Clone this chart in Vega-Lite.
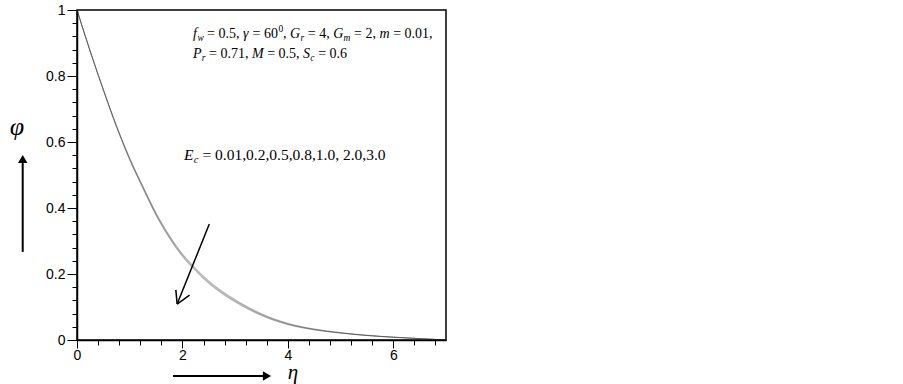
{
  "$schema": "https://vega.github.io/schema/vega-lite/v6.json",
  "width": 369,
  "height": 330,
  "autosize": {"type": "none"},
  "padding": {"left": 77, "top": 10, "right": 457, "bottom": 44},
  "background": "white",
  "config": {
    "view": {"stroke": "#000", "strokeWidth": 1.5},
    "axis": {"grid": false, "title": null, "domainColor": "#000", "domainWidth": 1.5, "tickColor": "#000", "tickWidth": 1, "labelColor": "#000", "labelFont": "Liberation Sans", "labelFontSize": 14, "labelOverlap": false, "tickCount": 200}
  },
  "datasets": {
    "curves": [
      {"Ec":0.01,"eta":0,"phi":1},{"Ec":0.2,"eta":0,"phi":1},{"Ec":0.5,"eta":0,"phi":1},{"Ec":0.8,"eta":0,"phi":1},{"Ec":1.0,"eta":0,"phi":1},{"Ec":2.0,"eta":0,"phi":1},{"Ec":3.0,"eta":0,"phi":1},
      {"Ec":0.01,"eta":0.25,"phi":0.876},{"Ec":0.2,"eta":0.25,"phi":0.8757},{"Ec":0.5,"eta":0.25,"phi":0.8754},{"Ec":0.8,"eta":0.25,"phi":0.8751},{"Ec":1.0,"eta":0.25,"phi":0.8748},{"Ec":2.0,"eta":0.25,"phi":0.8745},{"Ec":3.0,"eta":0.25,"phi":0.8742},
      {"Ec":0.01,"eta":0.5,"phi":0.76},{"Ec":0.2,"eta":0.5,"phi":0.7594},{"Ec":0.5,"eta":0.5,"phi":0.7588},{"Ec":0.8,"eta":0.5,"phi":0.7582},{"Ec":1.0,"eta":0.5,"phi":0.7576},{"Ec":2.0,"eta":0.5,"phi":0.757},{"Ec":3.0,"eta":0.5,"phi":0.7564},
      {"Ec":0.01,"eta":0.75,"phi":0.65},{"Ec":0.2,"eta":0.75,"phi":0.6491},{"Ec":0.5,"eta":0.75,"phi":0.6482},{"Ec":0.8,"eta":0.75,"phi":0.6473},{"Ec":1.0,"eta":0.75,"phi":0.6464},{"Ec":2.0,"eta":0.75,"phi":0.6455},{"Ec":3.0,"eta":0.75,"phi":0.6446},
      {"Ec":0.01,"eta":1.0,"phi":0.552},{"Ec":0.2,"eta":1.0,"phi":0.5508},{"Ec":0.5,"eta":1.0,"phi":0.5496},{"Ec":0.8,"eta":1.0,"phi":0.5484},{"Ec":1.0,"eta":1.0,"phi":0.5472},{"Ec":2.0,"eta":1.0,"phi":0.546},{"Ec":3.0,"eta":1.0,"phi":0.5448},
      {"Ec":0.01,"eta":1.25,"phi":0.467},{"Ec":0.2,"eta":1.25,"phi":0.4656},{"Ec":0.5,"eta":1.25,"phi":0.4642},{"Ec":0.8,"eta":1.25,"phi":0.4628},{"Ec":1.0,"eta":1.25,"phi":0.4614},{"Ec":2.0,"eta":1.25,"phi":0.46},{"Ec":3.0,"eta":1.25,"phi":0.4586},
      {"Ec":0.01,"eta":1.5,"phi":0.386},{"Ec":0.2,"eta":1.5,"phi":0.3845},{"Ec":0.5,"eta":1.5,"phi":0.383},{"Ec":0.8,"eta":1.5,"phi":0.3815},{"Ec":1.0,"eta":1.5,"phi":0.38},{"Ec":2.0,"eta":1.5,"phi":0.3785},{"Ec":3.0,"eta":1.5,"phi":0.377},
      {"Ec":0.01,"eta":1.75,"phi":0.318},{"Ec":0.2,"eta":1.75,"phi":0.3164},{"Ec":0.5,"eta":1.75,"phi":0.3148},{"Ec":0.8,"eta":1.75,"phi":0.3132},{"Ec":1.0,"eta":1.75,"phi":0.3116},{"Ec":2.0,"eta":1.75,"phi":0.31},{"Ec":3.0,"eta":1.75,"phi":0.3084},
      {"Ec":0.01,"eta":2.0,"phi":0.262},{"Ec":0.2,"eta":2.0,"phi":0.2604},{"Ec":0.5,"eta":2.0,"phi":0.2588},{"Ec":0.8,"eta":2.0,"phi":0.2572},{"Ec":1.0,"eta":2.0,"phi":0.2556},{"Ec":2.0,"eta":2.0,"phi":0.254},{"Ec":3.0,"eta":2.0,"phi":0.2524},
      {"Ec":0.01,"eta":2.25,"phi":0.218},{"Ec":0.2,"eta":2.25,"phi":0.2164},{"Ec":0.5,"eta":2.25,"phi":0.2148},{"Ec":0.8,"eta":2.25,"phi":0.2132},{"Ec":1.0,"eta":2.25,"phi":0.2116},{"Ec":2.0,"eta":2.25,"phi":0.21},{"Ec":3.0,"eta":2.25,"phi":0.2084},
      {"Ec":0.01,"eta":2.5,"phi":0.18},{"Ec":0.2,"eta":2.5,"phi":0.1784},{"Ec":0.5,"eta":2.5,"phi":0.1768},{"Ec":0.8,"eta":2.5,"phi":0.1752},{"Ec":1.0,"eta":2.5,"phi":0.1736},{"Ec":2.0,"eta":2.5,"phi":0.172},{"Ec":3.0,"eta":2.5,"phi":0.1704},
      {"Ec":0.01,"eta":2.75,"phi":0.149},{"Ec":0.2,"eta":2.75,"phi":0.1475},{"Ec":0.5,"eta":2.75,"phi":0.146},{"Ec":0.8,"eta":2.75,"phi":0.1445},{"Ec":1.0,"eta":2.75,"phi":0.143},{"Ec":2.0,"eta":2.75,"phi":0.1415},{"Ec":3.0,"eta":2.75,"phi":0.14},
      {"Ec":0.01,"eta":3.0,"phi":0.123},{"Ec":0.2,"eta":3.0,"phi":0.1216},{"Ec":0.5,"eta":3.0,"phi":0.1202},{"Ec":0.8,"eta":3.0,"phi":0.1188},{"Ec":1.0,"eta":3.0,"phi":0.1174},{"Ec":2.0,"eta":3.0,"phi":0.116},{"Ec":3.0,"eta":3.0,"phi":0.1146},
      {"Ec":0.01,"eta":3.5,"phi":0.08},{"Ec":0.2,"eta":3.5,"phi":0.0789},{"Ec":0.5,"eta":3.5,"phi":0.0778},{"Ec":0.8,"eta":3.5,"phi":0.0767},{"Ec":1.0,"eta":3.5,"phi":0.0756},{"Ec":2.0,"eta":3.5,"phi":0.0745},{"Ec":3.0,"eta":3.5,"phi":0.0734},
      {"Ec":0.01,"eta":4.0,"phi":0.051},{"Ec":0.2,"eta":4.0,"phi":0.0502},{"Ec":0.5,"eta":4.0,"phi":0.0494},{"Ec":0.8,"eta":4.0,"phi":0.0486},{"Ec":1.0,"eta":4.0,"phi":0.0478},{"Ec":2.0,"eta":4.0,"phi":0.047},{"Ec":3.0,"eta":4.0,"phi":0.0462},
      {"Ec":0.01,"eta":4.5,"phi":0.0335},{"Ec":0.2,"eta":4.5,"phi":0.033},{"Ec":0.5,"eta":4.5,"phi":0.0325},{"Ec":0.8,"eta":4.5,"phi":0.032},{"Ec":1.0,"eta":4.5,"phi":0.0315},{"Ec":2.0,"eta":4.5,"phi":0.031},{"Ec":3.0,"eta":4.5,"phi":0.0305},
      {"Ec":0.01,"eta":5.0,"phi":0.0225},{"Ec":0.2,"eta":5.0,"phi":0.0222},{"Ec":0.5,"eta":5.0,"phi":0.0219},{"Ec":0.8,"eta":5.0,"phi":0.0216},{"Ec":1.0,"eta":5.0,"phi":0.0213},{"Ec":2.0,"eta":5.0,"phi":0.021},{"Ec":3.0,"eta":5.0,"phi":0.0207},
      {"Ec":0.01,"eta":5.5,"phi":0.0145},{"Ec":0.2,"eta":5.5,"phi":0.0143},{"Ec":0.5,"eta":5.5,"phi":0.0141},{"Ec":0.8,"eta":5.5,"phi":0.0139},{"Ec":1.0,"eta":5.5,"phi":0.0137},{"Ec":2.0,"eta":5.5,"phi":0.0135},{"Ec":3.0,"eta":5.5,"phi":0.0133},
      {"Ec":0.01,"eta":6.0,"phi":0.0088},{"Ec":0.2,"eta":6.0,"phi":0.0087},{"Ec":0.5,"eta":6.0,"phi":0.0086},{"Ec":0.8,"eta":6.0,"phi":0.0085},{"Ec":1.0,"eta":6.0,"phi":0.0084},{"Ec":2.0,"eta":6.0,"phi":0.0083},{"Ec":3.0,"eta":6.0,"phi":0.0082},
      {"Ec":0.01,"eta":6.5,"phi":0.0042},{"Ec":0.2,"eta":6.5,"phi":0.0042},{"Ec":0.5,"eta":6.5,"phi":0.0042},{"Ec":0.8,"eta":6.5,"phi":0.0042},{"Ec":1.0,"eta":6.5,"phi":0.0042},{"Ec":2.0,"eta":6.5,"phi":0.0042},{"Ec":3.0,"eta":6.5,"phi":0.0042},
      {"Ec":0.01,"eta":7.0,"phi":0},{"Ec":0.2,"eta":7.0,"phi":0},{"Ec":0.5,"eta":7.0,"phi":0},{"Ec":0.8,"eta":7.0,"phi":0},{"Ec":1.0,"eta":7.0,"phi":0},{"Ec":2.0,"eta":7.0,"phi":0},{"Ec":3.0,"eta":7.0,"phi":0}
    ],
    "segments": [
      {"x":2.2005,"y":0.9273,"t":"f","k":"im"},
      {"x":2.286,"y":0.9273,"t":"w","k":"is"},
      {"x":2.466,"y":0.9273,"t":"= 0.5,","k":"um"},
      {"x":3.149,"y":0.9273,"t":"γ","k":"im"},
      {"x":3.331,"y":0.9273,"t":"= 60","k":"um"},
      {"x":3.823,"y":0.9273,"t":"0","k":"up"},
      {"x":3.908,"y":0.9273,"t":",","k":"um"},
      {"x":4.041,"y":0.9273,"t":"G","k":"im"},
      {"x":4.24,"y":0.9273,"t":"r","k":"is"},
      {"x":4.378,"y":0.9273,"t":"= 4,","k":"um"},
      {"x":4.86,"y":0.9273,"t":"G","k":"im"},
      {"x":5.056,"y":0.9273,"t":"m","k":"is"},
      {"x":5.257,"y":0.9273,"t":"= 2,","k":"um"},
      {"x":5.738,"y":0.9273,"t":"m","k":"im"},
      {"x":5.997,"y":0.9273,"t":"= 0.01,","k":"um"},
      {"x":2.2005,"y":0.8667,"t":"P","k":"im"},
      {"x":2.368,"y":0.8667,"t":"r","k":"is"},
      {"x":2.506,"y":0.8667,"t":"= 0.71,","k":"um"},
      {"x":3.32,"y":0.8667,"t":"M","k":"im"},
      {"x":3.608,"y":0.8667,"t":"= 0.5,","k":"um"},
      {"x":4.289,"y":0.8667,"t":"S","k":"im"},
      {"x":4.426,"y":0.8667,"t":"c","k":"is"},
      {"x":4.575,"y":0.8667,"t":"= 0.6","k":"um"}
    ],
    "ecLabel": [
      {"x":2.03,"y":0.5606,"t":"E","k":"im"},
      {"x":2.214,"y":0.5606,"t":"c","k":"is"},
      {"x":2.379,"y":0.5606,"t":"= 0.01,0.2,0.5,0.8,1.0, 2.0,3.0","k":"um"}
    ],
    "arrowLines": [
      {"x":2.51,"y":0.3515,"x2":1.9,"y2":0.109,"w":1.5},
      {"x":1.9,"y":0.109,"x2":1.875,"y2":0.152,"w":1.5},
      {"x":1.9,"y":0.109,"x2":2.135,"y2":0.136,"w":1.5},
      {"x":-1.03,"y":0.267,"x2":-1.03,"y2":0.55,"w":2},
      {"x":1.821,"y":-0.1091,"x2":3.62,"y2":-0.1091,"w":2}
    ],
    "heads": [
      {"x":-1.03,"y":0.5485,"s":"triangle-up"},
      {"x":3.604,"y":-0.1091,"s":"triangle-right"}
    ],
    "axisSymbols": [
      {"x":-1.138,"y":0.645,"t":"φ","sz":26},
      {"x":4.097,"y":-0.1015,"t":"η","sz":21}
    ]
  },
  "layer": [
    {
      "data": {"name": "curves"},
      "mark": {"type": "line", "color": "#222", "strokeWidth": 1, "opacity": 0.18, "interpolate": "monotone"},
      "encoding": {
        "x": {"field": "eta", "type": "quantitative", "scale": {"domain": [0, 7], "nice": false},
          "axis": {"values": [0,0.4,0.8,1.2,1.6,2,2.4,2.8,3.2,3.6,4,4.4,4.8,5.2,5.6,6,6.4,6.8],
            "labelExpr": "datum.value % 2 === 0 ? format(datum.value, '~g') : ''",
            "tickSize": {"condition": {"test": "datum.value % 2 === 0", "value": 8}, "value": 5},
            "labelPadding": 0, "labelFlush": false}},
        "y": {"field": "phi", "type": "quantitative", "scale": {"domain": [0, 1], "nice": false},
          "axis": {"values": [0,0.04,0.08,0.12,0.16,0.2,0.24,0.28,0.32,0.36,0.4,0.44,0.48,0.52,0.56,0.6,0.64,0.68,0.72,0.76,0.8,0.84,0.88,0.92,0.96,1],
            "labelExpr": "abs(datum.value*5 - round(datum.value*5)) < 1e-6 ? format(datum.value, '~g') : ''",
            "tickSize": {"condition": {"test": "abs(datum.value*5 - round(datum.value*5)) < 1e-6", "value": 10}, "value": 5},
            "labelPadding": 2, "labelFlush": false}},
        "detail": {"field": "Ec", "type": "nominal"}
      }
    },
    {
      "data": {"name": "arrowLines"},
      "mark": {"type": "rule", "color": "#000", "clip": false, "strokeCap": "butt"},
      "encoding": {
        "x": {"field": "x", "type": "quantitative"},
        "y": {"field": "y", "type": "quantitative"},
        "x2": {"field": "x2"},
        "y2": {"field": "y2"},
        "strokeWidth": {"field": "w", "type": "quantitative", "scale": null}
      }
    },
    {
      "data": {"name": "heads"},
      "mark": {"type": "point", "filled": true, "color": "#000", "opacity": 1, "size": 90, "clip": false},
      "encoding": {
        "x": {"field": "x", "type": "quantitative"},
        "y": {"field": "y", "type": "quantitative"},
        "shape": {"field": "s", "type": "nominal", "scale": null, "legend": null}
      }
    },
    {
      "data": {"name": "axisSymbols"},
      "mark": {"type": "text", "font": "Liberation Serif", "fontStyle": "italic", "align": "center", "baseline": "middle", "color": "#000", "clip": false},
      "encoding": {
        "x": {"field": "x", "type": "quantitative"},
        "y": {"field": "y", "type": "quantitative"},
        "text": {"field": "t"},
        "size": {"field": "sz", "type": "quantitative", "scale": null}
      }
    },
    {
      "data": {"name": "segments"},
      "transform": [{"filter": "datum.k === 'um'"}],
      "mark": {"type": "text", "font": "Liberation Serif", "fontSize": 14, "align": "left", "baseline": "middle", "color": "#000"},
      "encoding": {"x": {"field": "x", "type": "quantitative"}, "y": {"field": "y", "type": "quantitative"}, "text": {"field": "t"}}
    },
    {
      "data": {"name": "segments"},
      "transform": [{"filter": "datum.k === 'im'"}],
      "mark": {"type": "text", "font": "Liberation Serif", "fontStyle": "italic", "fontSize": 14, "align": "left", "baseline": "middle", "color": "#000"},
      "encoding": {"x": {"field": "x", "type": "quantitative"}, "y": {"field": "y", "type": "quantitative"}, "text": {"field": "t"}}
    },
    {
      "data": {"name": "segments"},
      "transform": [{"filter": "datum.k === 'is'"}],
      "mark": {"type": "text", "font": "Liberation Serif", "fontStyle": "italic", "fontSize": 9.5, "align": "left", "baseline": "middle", "dy": 4, "color": "#000"},
      "encoding": {"x": {"field": "x", "type": "quantitative"}, "y": {"field": "y", "type": "quantitative"}, "text": {"field": "t"}}
    },
    {
      "data": {"name": "segments"},
      "transform": [{"filter": "datum.k === 'up'"}],
      "mark": {"type": "text", "font": "Liberation Serif", "fontSize": 9.5, "align": "left", "baseline": "middle", "dy": -5, "color": "#000"},
      "encoding": {"x": {"field": "x", "type": "quantitative"}, "y": {"field": "y", "type": "quantitative"}, "text": {"field": "t"}}
    },
    {
      "data": {"name": "ecLabel"},
      "transform": [{"filter": "datum.k === 'um'"}],
      "mark": {"type": "text", "font": "Liberation Serif", "fontSize": 15.5, "align": "left", "baseline": "middle", "color": "#000"},
      "encoding": {"x": {"field": "x", "type": "quantitative"}, "y": {"field": "y", "type": "quantitative"}, "text": {"field": "t"}}
    },
    {
      "data": {"name": "ecLabel"},
      "transform": [{"filter": "datum.k === 'im'"}],
      "mark": {"type": "text", "font": "Liberation Serif", "fontStyle": "italic", "fontSize": 15.5, "align": "left", "baseline": "middle", "color": "#000"},
      "encoding": {"x": {"field": "x", "type": "quantitative"}, "y": {"field": "y", "type": "quantitative"}, "text": {"field": "t"}}
    },
    {
      "data": {"name": "ecLabel"},
      "transform": [{"filter": "datum.k === 'is'"}],
      "mark": {"type": "text", "font": "Liberation Serif", "fontStyle": "italic", "fontSize": 10.5, "align": "left", "baseline": "middle", "dy": 5, "color": "#000"},
      "encoding": {"x": {"field": "x", "type": "quantitative"}, "y": {"field": "y", "type": "quantitative"}, "text": {"field": "t"}}
    }
  ]
}
